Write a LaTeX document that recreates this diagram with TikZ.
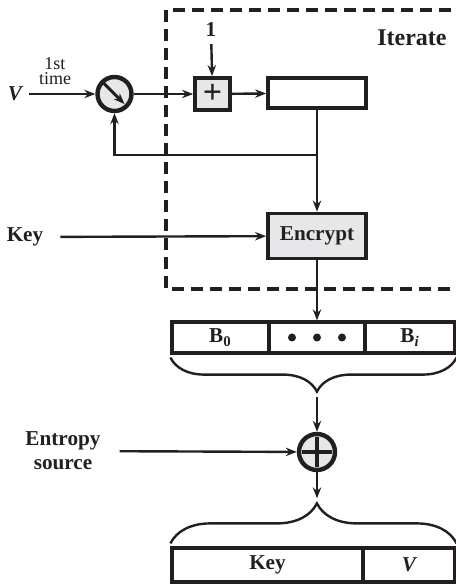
\documentclass[tikz,border=0pt]{standalone}
\usepackage{fontspec}
\setmainfont{Liberation Serif}
\usetikzlibrary{arrows.meta,decorations.pathreplacing}
\definecolor{inkblack}{RGB}{35,31,32}
\definecolor{boxgray}{RGB}{231,231,233}

\begin{document}
\begin{tikzpicture}[x=0.5pt,y=0.5pt,>={Stealth[length=5.5pt,width=4.2pt]},color=inkblack,
  every node/.style={font=\fontsize{10.6}{12}\selectfont\bfseries},
  graybox/.style={draw,line width=1.9pt,fill=boxgray,inner sep=0pt},
  regbox/.style={draw,line width=1.9pt,fill=white,inner sep=0pt},
  cellbox/.style={draw,line width=1.6pt,inner sep=0pt,minimum height=15.5pt},
  ring/.style={circle,draw,line width=2.2pt,fill=boxgray,inner sep=0pt},
  flow/.style={->,line width=1.2pt},
  curly/.style 2 args={decorate,decoration={brace,amplitude=#1,aspect=#2},line width=1.2pt},
  loopframe/.style={line width=1.6pt,dash pattern=on 6pt off 3.5pt}]
  \useasboundingbox (0,0) rectangle (456,585);
  % iterate frame (runs off the right edge)
  \draw[loopframe] (470,575) -- (166,575) -- (166,296) -- (470,296);
  \node[font=\fontsize{12}{14}\selectfont\bfseries] (iter) at (412,547) {Iterate};

  % counter loop
  \node[ring,minimum size=17pt] (sw) at (114.5,491) {};
  \draw[->,line width=1.5pt] ([shift={(-11,11)}]sw.center) -- ([shift={(10,-10)}]sw.center);
  \node[graybox,minimum width=17.5pt,minimum height=16pt,font=\fontsize{17}{17}\selectfont\bfseries] (inc) at (212.5,491) {+};
  \node[regbox,minimum width=49pt,minimum height=15pt] (reg) at (317,492) {};
  \node (one) at (211,555) {1};
  \node[font=\fontsize{10.6}{12}\selectfont\bfseries\itshape] (vin) at (15,491) {V};
  \node[font=\fontsize{9}{7.8}\selectfont,align=center] (first) at (55,514) {1st\\time};
  \node[graybox,minimum width=49pt,minimum height=22.5pt] (enc) at (317,349) {Encrypt};
  \node (keyin) at (25,348) {Key};

  \draw[flow] (vin) -- (sw);
  \draw[flow] (sw) -- (inc);
  \draw[flow] (one) -- (inc);
  \draw[flow] (inc) -- (reg);
  \draw[flow] (reg) -- (enc);
  \coordinate (tap) at (reg |- 0,430);
  \draw[flow] (tap) -| (sw);
  \draw[flow,shorten <=5pt] (keyin) -- (enc);

  % output blocks
  \node[cellbox,minimum width=48.5pt] (b0) at (220.5,247.5) {B\textsubscript{0}};
  \node[cellbox,minimum width=48pt] (bdots) at (317,247.5) {};
  \node[cellbox,minimum width=45pt] (bi) at (410,247.5) {B\textsubscript{\itshape i}};
  \foreach \dx in {-25,0,25}
    \fill (bdots.center) ++(\dx,0) circle (2pt);
  \draw[flow] (enc) -- (bdots);
  \draw[curly={17pt}{0.488}] ([yshift=-1.5pt]bi.south east) -- ([yshift=-1.5pt]b0.south west);
  \path (bdots.south) ++(0,-42) coordinate (btip);

  % entropy mix
  \node[ring,minimum size=18pt] (xor) at (317,133) {};
  \draw[line width=2.2pt,shorten <=2.5pt,shorten >=2.5pt] (xor.north) -- (xor.south);
  \draw[line width=2.2pt,shorten <=2.5pt,shorten >=2.5pt] (xor.west) -- (xor.east);
  \node[align=center] (ent) at (63,134) {Entropy\\source};
  \draw[flow] (btip) -- (xor);
  \draw[flow,shorten <=6pt] (ent) -- (xor);

  % new key and V
  \node[cellbox,minimum width=95.5pt,minimum height=17pt] (kout) at (267.5,20) {Key};
  \node[cellbox,minimum width=46pt,minimum height=17pt,font=\fontsize{10.6}{12}\selectfont\bfseries\itshape] (vout) at (409,20) {V};
  \draw[curly={20pt}{0.512}] ([yshift=1.5pt]kout.north west) -- ([yshift=1.5pt]vout.north east);
  \path (kout.north -| xor) ++(0,48) coordinate (ktip);
  \draw[flow] (xor) -- (ktip);
\end{tikzpicture}
\end{document}
